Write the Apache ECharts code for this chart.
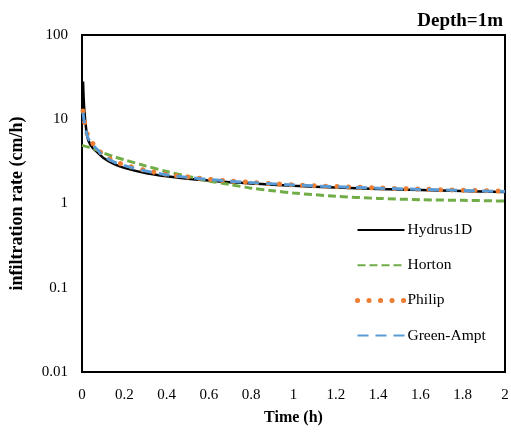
<!DOCTYPE html>
<html>
<head>
<meta charset="utf-8">
<script src="https://cdn.jsdelivr.net/npm/echarts@6/dist/echarts.min.js"></script>
<style>html,body{margin:0;padding:0;background:#fff}#c{width:511px;height:434px}</style>
</head>
<body>
<div id="c"></div>
<script>
var timeMain = [0.005, 0.01, 0.02, 0.03, 0.05, 0.075, 0.1, 0.15, 0.2, 0.3, 0.4, 0.5, 0.6, 0.7, 0.8, 0.9, 1.0, 1.2, 1.4, 1.6, 1.8, 2.0];
var hydrus =   [28, 14, 7.5, 5.6, 4.6, 4.0, 3.5, 2.95, 2.65, 2.3, 2.1, 1.97, 1.87, 1.79, 1.73, 1.67, 1.62, 1.55, 1.49, 1.45, 1.41, 1.37];
var philip =   [12.5, 10, 7.4, 6.2, 5.2, 4.4, 3.8, 3.2, 2.88, 2.47, 2.22, 2.06, 1.94, 1.85, 1.78, 1.72, 1.67, 1.59, 1.53, 1.48, 1.44, 1.40];
var greenAmpt =[12, 9.6, 7.1, 5.9, 5.0, 4.3, 3.7, 3.12, 2.82, 2.43, 2.19, 2.04, 1.93, 1.84, 1.77, 1.71, 1.66, 1.58, 1.52, 1.47, 1.43, 1.39];
var timeHorton = [0, 0.05, 0.1, 0.15, 0.2, 0.3, 0.4, 0.5, 0.6, 0.7, 0.8, 0.9, 1.0, 1.2, 1.4, 1.6, 1.8, 2.0];
var horton =   [4.9, 4.5, 4.0, 3.6, 3.3, 2.8, 2.4, 2.1, 1.85, 1.68, 1.52, 1.42, 1.33, 1.22, 1.15, 1.11, 1.09, 1.07];
var yTicks = [0.01, 0.1, 1, 10, 100];

function pairs(xs, ys){ return xs.map(function(x,i){return [x, ys[i]];}); }

var chart = echarts.init(document.getElementById('c'));
var serif = 'Liberation Serif';
var dotStyle = {color: '#ed7d31', width: 5, type: [0.1, 11.4], cap: 'round'};
chart.setOption({
  animation: false,
  title: {
    text: 'Depth=1m', right: 3, top: 7,
    textStyle: {fontFamily: serif, fontWeight: 'bold', fontSize: 19, color: '#000'}
  },
  grid: {left: 82, right: 6, top: 35, bottom: 62, show: true, borderColor: '#000', borderWidth: 2,
    containLabel: false, outerBoundsMode: 'none'},
  legend: {
    orient: 'vertical', left: 350, top: 217, itemWidth: 47, itemHeight: 14, itemGap: 19.2,
    itemStyle: {opacity: 0},
    textStyle: {fontFamily: serif, fontSize: 15.5, color: '#000', padding: [0,0,0,-2]},
    data: ['Hydrus1D', 'Horton', {name: 'Philip', lineStyle: {width: 5}}, 'Green-Ampt']
  },
  xAxis: {
    type: 'value', min: 0, max: 2, interval: 0.2,
    name: 'Time (h)', nameLocation: 'middle', nameGap: 38,
    nameTextStyle: {fontFamily: serif, fontWeight: 'bold', fontSize: 16, color: '#000'},
    axisLine: {show: true, onZero: false, lineStyle: {color: '#000', width: 2}},
    axisTick: {show: false},
    splitLine: {show: false},
    axisLabel: {fontFamily: serif, fontSize: 15, color: '#000', margin: 16,
      formatter: function(v){ return (Math.round(v*10)/10).toString(); }}
  },
  yAxis: {
    type: 'log', logBase: 10, min: yTicks[0], max: yTicks[yTicks.length-1],
    name: 'infiltration rate (cm/h)', nameLocation: 'middle', nameGap: 56,
    nameTextStyle: {fontFamily: serif, fontWeight: 'bold', fontSize: 18, color: '#000'},
    axisLine: {show: true, lineStyle: {color: '#000', width: 2}},
    axisTick: {show: false},
    splitLine: {show: false},
    minorSplitLine: {show: false},
    axisLabel: {fontFamily: serif, fontSize: 15, color: '#000', margin: 14,
      formatter: function(v){
        var best = yTicks.reduce(function(a,b){return Math.abs(Math.log10(b)-Math.log10(v)) < Math.abs(Math.log10(a)-Math.log10(v)) ? b : a;});
        return String(best);
      }}
  },
  series: [
    {name: 'Hydrus1D', type: 'line', data: pairs(timeMain, hydrus), showSymbol: false, symbol: 'none', smooth: 0.3,
      lineStyle: {color: '#000', width: 2.5}, itemStyle: {color: '#000'}},
    {name: 'Horton', type: 'line', data: pairs(timeHorton, horton), showSymbol: false, symbol: 'none', smooth: 0.3,
      lineStyle: {color: '#70ad47', width: 3, type: [8, 4]}, itemStyle: {color: '#70ad47'}},
    {name: 'Philip', type: 'line', data: pairs(timeMain, philip), showSymbol: false, symbol: 'none', smooth: 0.3,
      lineStyle: dotStyle, itemStyle: {color: '#ed7d31'}},
    {name: 'Green-Ampt', type: 'line', data: pairs(timeMain, greenAmpt), showSymbol: false, symbol: 'none', smooth: 0.3,
      lineStyle: {color: '#5b9bd5', width: 3, type: [11, 7]}, itemStyle: {color: '#5b9bd5'}}
  ]
});
</script>
</body>
</html>
